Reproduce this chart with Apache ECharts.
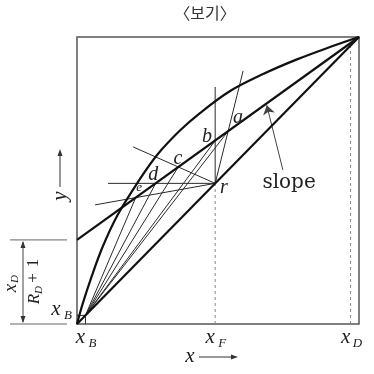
<!DOCTYPE html>
<html><head><meta charset="utf-8">
<script src="https://cdn.jsdelivr.net/npm/echarts@6/dist/echarts.min.js"></script>
<style>html,body{margin:0;padding:0;background:#fff}#c{width:374px;height:374px}</style>
</head><body><div id="c"></div>
<script>
// ---- data (normalized composition units) ----
const eqX = [0, 0.020, 0.050, 0.091, 0.144, 0.221, 0.284, 0.365, 0.436, 0.543, 0.660, 0.780, 0.897, 1];
const eqY = [0, 0.070, 0.160, 0.269, 0.380, 0.502, 0.589, 0.674, 0.735, 0.812, 0.871, 0.922, 0.965, 1];
const xB = 0.03, xF = 0.49, xD = 0.97;
const rectIntercept = 0.293;              // x_D/(R_D+1)
const rPoint = [0.49, 0.49];
const pointNames = ['a', 'b', 'c', 'd', 'e'];
const qLineEnds = [[0.589, 0.882], [0.49, 0.826], [0.199, 0.617], [0.110, 0.49], [0.064, 0.415]];
const opPoints = [[0.536, 0.672], [0.49, 0.639], [0.359, 0.547], [0.279, 0.49], [0.208, 0.44]];
const pointLabelAt = [[0.571, 0.718], [0.461, 0.652], [0.358, 0.575], [0.270, 0.519], [0.220, 0.474]];
const rLabelAt = [0.521, 0.474];
const tickValues = [xB, xF, xD];
const tickSubs = ['B', 'F', 'D'];
const slopeArrowFrom = [0.730, 0.537];
const slopeArrowTo = [0.673, 0.762];
const slopeLabelAt = [0.752, 0.491];
const titleText = '〈보기〉';

const chart = echarts.init(document.getElementById('c'), null, {renderer: 'canvas'});
const thin = {color: '#2a2a2a', width: 1};
const thick = {color: '#111', width: 2.2};
const dashed = {color: '#888', width: 1, type: [3, 3]};
function seg(name, pts, style, z) {
  return {name, type: 'line', data: pts, symbol: 'none', lineStyle: style, silent: true, animation: false, z: z || 2};
}
const series = [];
series.push(Object.assign(seg('equilibrium', eqX.map((x, i) => [x, eqY[i]]), thick, 5), {smooth: 0.35}));
series.push(seg('diagonal', [[0, 0], [1, 1]], thick, 5));
series.push(seg('rectifying', [[0, rectIntercept], [1, 1]], thick, 5));
qLineEnds.forEach((e, i) => series.push(seg('q-' + pointNames[i], [rPoint, e], thin)));
opPoints.forEach((p, i) => series.push(seg('strip-' + pointNames[i], [[xB, xB], p], thin)));
series.push(seg('xF', [[xF, 0], [xF, xF]], dashed));
series.push(seg('xD', [[xD, 0], [xD, xD]], dashed));
series.push(seg('xBbox', [[xB, 0], [xB, xB], [0, xB]], thin));
series.push({type: 'lines', coordinateSystem: 'cartesian2d', data: [{coords: [slopeArrowFrom, slopeArrowTo]}],
  symbol: ['none', 'arrow'], symbolSize: [6, 9], lineStyle: {color: '#444', width: 1, opacity: 1}, silent: true, animation: false});

chart.setOption({
  animation: false,
  grid: {left: 77, top: 37, width: 282, height: 287, show: true, borderColor: '#555', borderWidth: 1.5},
  xAxis: {type: 'value', min: 0, max: 1, show: false},
  yAxis: {type: 'value', min: 0, max: 1, show: false},
  series
});

const P = (x, y) => chart.convertToPixel({gridIndex: 0}, [x, y]);
const serif = '"Liberation Serif", "DejaVu Serif", serif';
function T(text, x, y, size, extra) {
  return {type: 'text', x, y, silent: true, z: 100,
    style: Object.assign({text, font: 'italic ' + size + 'px ' + serif, fill: '#222', textAlign: 'center', textVerticalAlign: 'middle'}, extra || {})};
}
function L(x1, y1, x2, y2, color, w) {
  return {type: 'line', silent: true, z: 100, shape: {x1, y1, x2, y2}, style: {stroke: color || '#555', lineWidth: w || 1}};
}
function Tri(pts, color) {
  return {type: 'polygon', silent: true, z: 100, shape: {points: pts}, style: {fill: color || '#333'}};
}
const g = [];
// title
g.push({type: 'text', x: 205, y: 13, silent: true, style: {text: titleText, font: '16px "Noto Sans CJK KR"', fill: '#333', textAlign: 'center', textVerticalAlign: 'middle'}});
// tick labels under the box
const yBot = P(0, 0)[1];
tickValues.forEach((v, i) => {
  const px = P(v, 0)[0];
  g.push(T('x', px - 5, yBot + 13, 21));
  g.push(T(tickSubs[i], px + 7, yBot + 20, 13));
});
// x axis label with arrow
g.push(T('x', 190, 356, 21));
g.push(L(199, 357, 233, 357, '#333', 1));
g.push(Tri([[238, 357], [231, 354.5], [231, 359.5]]));
// y axis label with arrow (rotated)
g.push({type: 'text', x: 60, y: 196, rotation: Math.PI / 2, silent: true,
  style: {text: 'y', font: 'italic 21px ' + serif, fill: '#222', textAlign: 'center', textVerticalAlign: 'middle'}});
g.push(L(60, 187, 60, 155, '#333', 1));
g.push(Tri([[60, 149], [57.5, 156], [62.5, 156]]));
// point labels
pointLabelAt.forEach((p, i) => {
  const q = P(p[0], p[1]);
  g.push(T(pointNames[i], q[0], q[1], pointNames[i] === 'e' ? 13 : 20));
});
const rq = P(rLabelAt[0], rLabelAt[1]);
g.push(T('r', rq[0], rq[1], 20));
// slope label
const sq = P(slopeLabelAt[0], slopeLabelAt[1]);
g.push({type: 'text', x: sq[0], y: sq[1], silent: true, style: {text: 'slope', font: '20px "DejaVu Serif", serif', fill: '#222', textAlign: 'center', textVerticalAlign: 'middle'}});
// left dimension x_D/(R_D+1)
const yTop = P(0, rectIntercept)[1];
g.push(L(10, yTop, 67, yTop, '#666', 1));
g.push(L(10, yBot, 67, yBot, '#666', 1));
g.push(L(23, yTop + 2, 23, yBot - 2, '#444', 1));
g.push(Tri([[23, yTop + 1], [20.5, yTop + 8], [25.5, yTop + 8]]));
g.push(Tri([[23, yBot - 1], [20.5, yBot - 8], [25.5, yBot - 8]]));
const mid = (yTop + yBot) / 2;
g.push({type: 'group', x: 23, y: mid, rotation: Math.PI / 2, silent: true, children: [
  T('x', -6, -12, 19), T('D', 3, -8, 11),
  T('R', -17, 12, 17), T('D', -8, 16, 11), T('+', 4, 11, 17, {font: '17px ' + serif}), T('1', 19, 11, 17, {font: '17px ' + serif})
]});
// x_B label at left of box
g.push(T('x', 56, 309, 21));
g.push(T('B', 68, 316, 13));

chart.setOption({graphic: g});
</script>
</body></html>
